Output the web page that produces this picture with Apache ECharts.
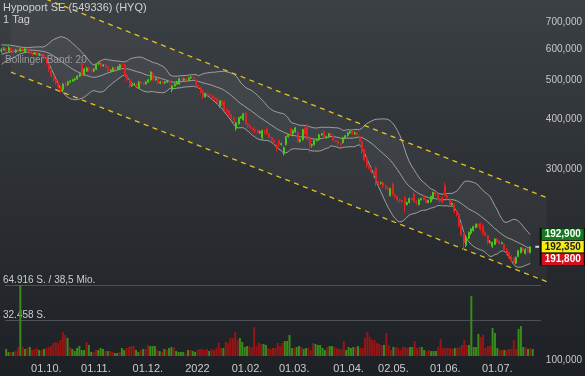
<!DOCTYPE html>
<html><head><meta charset="utf-8">
<script src="https://cdn.jsdelivr.net/npm/echarts@6/dist/echarts.min.js"></script>
<style>html,body{margin:0;padding:0;background:#2c3034;}#c{width:585px;height:376px;}</style>
</head><body><div id="c"></div>
<script>
const chartTitle = 'Hypoport SE (549336) (HYQ)';
const chartPeriod = '1 Tag';
const indicatorLabel = 'Bollinger Band: 20';
const firstDay = '2021-09-08';
const emptyDaysAfter = 7;
const holidays = ['2021-12-24','2021-12-31','2022-04-15','2022-04-18'];
const monthLabelDates = ['2021-10-01','2021-11-01','2021-12-01','2022-01-03','2022-02-01','2022-03-01','2022-04-01','2022-05-02','2022-06-01','2022-07-01'];
const monthLabelTexts = ['01.10.','01.11.','01.12.','2022','01.02.','01.03.','01.04.','02.05.','01.06.','01.07.'];
const priceTicks = [100,300,400,500,600,700]; // thousand EUR
const volumeTicks = [32.458, 64.916]; // thousand shares
const volumeTickLabels = ['32.458 S.', '64.916 S. / 38,5 Mio.'];
const quoteValues = [192.9, 192.35, 191.8];
const quoteTexts = ['192,900', '192,350', '191,800'];
// closes before the first visible day (feed the 20-day band)
const bbHistory = [548,556,562,560,566,571,568,575,580,584,586,590,594,598,600,596,602,598,594];
// [open, close, low, high] in thousand EUR
const candles = [
[593,596,586,603],[596,600,593,606],[600,593,589,603],[593,603,589,610],[603,596,593,606],[596,589,586,600],[589,596,586,600],[596,593,589,600],[593,600,589,603],[600,596,593,603],
[589,600,586,603],[600,589,586,603],[589,586,583,593],[586,583,576,589],[583,586,579,589],[586,579,576,589],[579,583,576,586],[583,579,573,586],[579,569,563,583],[569,553,547,573],
[553,531,525,556],[531,513,508,534],[513,502,496,516],[502,493,488,505],[493,482,477,496],[482,474,466,485],[474,490,471,493],[490,488,482,493],[488,496,485,499],[496,499,493,502],
[499,502,496,505],[502,505,499,508],[505,513,502,516],[513,522,510,525],[553,513,510,556],[516,534,513,537],[528,537,525,541],[537,531,525,541],[531,528,522,534],[528,534,525,537],
[534,550,531,553],[550,553,547,556],[553,544,541,556],[544,547,541,550],[547,541,537,550],[541,528,525,544],[528,531,525,534],[528,537,525,541],[537,534,531,541],[534,541,531,544],
[537,547,534,550],[547,544,541,550],[547,516,513,550],[516,502,499,519],[502,485,479,505],[485,488,482,490],[488,490,485,493],[490,485,482,493],[479,496,477,499],[496,493,488,499],
[493,490,485,496],[490,496,488,499],[496,502,493,505],[502,525,499,528],[522,502,499,525],[502,505,499,508],[505,493,490,508],[493,496,490,499],[496,493,490,499],[493,496,490,499],
[496,499,493,502],[499,493,488,502],[474,485,468,488],[485,490,482,493],[490,496,488,499],[490,505,488,508],[505,502,499,508],[502,505,499,508],[505,502,499,508],[502,508,499,510],
[508,510,505,513],[510,505,502,513],[502,485,482,505],[485,479,477,488],[479,468,463,482],[471,455,450,474],[455,463,453,466],[463,460,455,466],[460,458,453,463],[458,453,447,460],
[453,450,445,455],[450,440,435,453],[432,445,427,447],[445,435,432,447],[442,423,420,445],[423,420,415,425],[420,411,406,423],[411,404,399,413],[404,394,390,406],[379,392,375,394],
[390,404,388,406],[404,406,401,408],[399,413,397,415],[415,390,388,418],[390,386,381,392],[386,381,379,388],[381,377,373,383],[377,375,370,379],[375,370,368,377],[370,373,368,375],
[360,375,356,377],[375,373,368,377],[379,368,366,381],[368,360,358,370],[360,354,352,362],[354,350,346,356],[344,340,332,348],[354,346,342,356],[346,348,344,350],[328,340,325,342],
[346,362,344,364],[362,366,360,368],[379,368,366,381],[368,375,366,377],[373,381,370,383],[370,352,350,373],[352,356,350,358],[356,377,354,379],[381,368,366,383],[386,356,354,390],
[360,344,330,362],[344,346,340,348],[346,354,344,356],[354,356,352,358],[356,366,354,368],[366,368,364,370],[373,360,358,375],[360,362,358,364],[362,368,360,370],[368,366,364,370],
[364,354,352,366],[354,352,350,356],[352,348,344,354],[348,346,342,350],[350,360,348,362],[360,364,358,366],[364,370,362,373],[370,373,368,375],[373,368,366,375],[368,370,366,373],
[370,366,364,373],[362,352,350,364],[352,332,328,354],[336,317,314,338],[321,307,303,323],[307,303,300,308],[303,296,293,305],[296,290,286,298],[303,280,273,305],[280,277,273,281],
[277,278,275,280],[278,273,270,280],[273,270,267,275],[270,269,266,272],[258,269,257,270],[275,260,258,278],[260,257,254,261],[257,252,249,258],[252,251,248,254],[251,249,248,252],
[255,245,234,257],[245,248,244,249],[248,254,247,255],[254,252,251,255],[261,249,248,263],[249,248,245,251],[245,252,244,254],[252,254,251,255],[258,252,251,260],[252,248,247,254],
[248,251,247,252],[249,257,248,258],[254,263,252,264],[263,260,258,264],[261,252,251,263],[252,251,248,254],[255,248,247,257],[273,258,257,278],[258,255,252,260],[252,245,244,254],
[245,247,244,248],[245,236,233,247],[236,232,229,237],[232,217,215,233],[219,206,204,220],[208,197,189,209],[194,203,192,204],[202,209,201,210],[208,213,206,214],[211,216,210,217],
[215,219,214,220],[219,216,215,220],[220,213,211,221],[217,209,206,219],[209,205,204,210],[205,197,195,206],[197,198,196,200],[193,197,191,198],[195,201,194,202],[201,198,197,202],
[198,196,195,200],[196,197,195,198],[195,189,188,196],[189,185,184,191],[186,181,180,187],[182,177,176,183],[180,175,174,181],[175,181,174,182],[182,188,181,189],[186,191,185,192],
[191,188,187,192],[185,189,184,191],[189,187,186,191],[186,192.35,185,192.9]
];
// volume in thousand shares
const volumes = [
6.4,3.7,3.7,3.7,4.6,8.2,64.9,8.2,6.4,7.3, 8.2,5.5,6.4,7.3,5.5,5.5,6.4,7.3,8.2,9.1,
11.9,12.8,11.9,14.6,21.9,19.2,16.5,8.2,6.4,4.6, 7.3,9.1,5.5,5.5,12.8,10.1,3.7,3.7,5.5,5.5,
7.3,6.4,4.6,4.6,4.6,3.7,2.7,2.7,3.7,7.3, 5.5,7.3,8.2,9.1,9.1,5.5,3.7,5.5,6.4,6.4,
10.1,9.1,9.1,9.1,5.5,4.6,3.7,6.4,5.5,7.3, 8.2,8.2,4.6,3.7,3.7,3.7,1.8,5.5,5.5,4.6,
3.7,5.5,6.4,6.4,5.5,6.4,4.6,6.4,5.5,7.3, 11.9,7.3,7.3,12.8,11.9,16.5,16.5,21.9,14.6,16.5,
12.8,8.2,9.1,9.1,8.2,26.5,9.1,11.9,11.0,11.0, 10.1,7.3,6.4,7.3,7.3,11.9,9.1,11.9,13.7,13.7,
19.2,7.3,7.3,8.2,9.1,8.2,6.4,7.3,7.3,5.5, 11.9,11.0,10.1,10.1,7.3,5.5,8.2,9.1,9.1,8.2,
7.3,6.4,6.4,13.7,5.5,8.2,7.3,8.2,8.2,9.1, 7.3,7.3,16.5,21.9,17.4,14.6,14.6,11.9,11.0,10.1,
10.1,21.0,10.1,5.5,8.2,8.2,7.3,5.5,8.2,8.2, 7.3,8.2,8.2,13.7,7.3,8.2,8.2,5.5,4.6,5.5,
4.6,4.6,4.6,8.2,15.5,7.3,7.3,7.3,7.3,6.4, 7.3,7.3,8.2,10.1,14.6,10.1,10.1,54.8,8.2,8.2,
20.1,17.4,19.2,7.3,9.1,9.1,25.6,21.0,7.3,5.5, 5.5,5.5,5.5,6.4,6.4,14.6,6.4,24.7,27.4,8.2,
8.2,6.4,7.3,6.4
];
// trend channel end points: [day index, price]
const channelUpper = [[4, 865], [230, 254.9]];
const channelLower = [[4, 524.6], [230, 157.4]];

// ---- calendar of trading days ----
function tradingDays(start, count) {
  const out = []; let t = Date.parse(start + 'T00:00:00Z');
  while (out.length < count) {
    const d = new Date(t), w = d.getUTCDay(), s = d.toISOString().slice(0, 10);
    if (w !== 0 && w !== 6 && !holidays.includes(s)) out.push(s);
    t += 86400000;
  }
  return out;
}
const nDays = candles.length;
const days = tradingDays(firstDay, nDays + emptyDaysAfter);
const volDays = days.slice(0, nDays + 3);
const labelMap = {};
monthLabelDates.forEach((d, i) => labelMap[d] = monthLabelTexts[i]);

// ---- Bollinger band (20, 2) ----
const closes = candles.map(c => c[1]);
const allCloses = bbHistory.concat(closes);
const bbMid = [], bbLow = [], bbSpan = [];
for (let i = 0; i < nDays; i++) {
  const w = allCloses.slice(i + bbHistory.length - 19, i + bbHistory.length + 1);
  const m = w.reduce((a, b) => a + b, 0) / w.length;
  const sd = Math.sqrt(w.reduce((a, b) => a + (b - m) * (b - m), 0) / w.length);
  bbMid.push(m); bbLow.push(m - 2 * sd); bbSpan.push(4 * sd);
}

const UP = '#4cc41e', DOWN = '#e02222';
const VUP = '#3a8a1c', VDOWN = '#961616';
const font = 'Liberation Sans, Arial, sans-serif';
const chart = echarts.init(document.getElementById('c'));
const bandLine = {color: 'rgba(175,175,175,0.85)', width: 1};

chart.setOption({
  animation: false,
  backgroundColor: {type: 'linear', x: 0, y: 0, x2: 0, y2: 1,
    colorStops: [{offset: 0, color: '#3b4045'}, {offset: 1, color: '#1d2024'}]},
  title: [
    {text: chartTitle, subtext: chartPeriod, left: 3, top: 2, padding: 0, itemGap: 0,
     textStyle: {fontSize: 11, fontWeight: 'normal', color: '#d0d0d0', fontFamily: font, lineHeight: 12},
     subtextStyle: {fontSize: 11, color: '#d0d0d0', fontFamily: font, lineHeight: 11}},
    {text: indicatorLabel, left: 5, top: 55, padding: 0,
     textStyle: {fontSize: 10, fontWeight: 'normal', color: 'rgba(175,175,175,0.8)', fontFamily: font}}
  ],
  grid: [
    {left: 0.31, top: 0, width: 550.2, height: 376},
    {left: 0.31, top: 285, width: 540.67, height: 71}
  ],
  xAxis: [
    {type: 'category', gridIndex: 0, data: days, show: false},
    {type: 'category', gridIndex: 1, data: volDays,
     axisLine: {show: false}, axisTick: {show: false},
     axisLabel: {interval: (i, v) => v in labelMap, formatter: v => labelMap[v] || '',
       color: '#cccccc', fontSize: 11, fontFamily: font, margin: 7}}
  ],
  yAxis: [
    {type: 'log', gridIndex: 0, min: 91.52, max: 794.3, position: 'right',
     axisLine: {show: false}, axisTick: {show: false}, splitLine: {show: false},
     axisLabel: {customValues: priceTicks, formatter: v => Math.round(v * 1000).toLocaleString('en-US'),
       align: 'right', margin: 34, color: '#c8c8c8', fontSize: 10, fontFamily: font}},
    {type: 'value', gridIndex: 1, min: 0, max: 64.916, interval: 32.458, position: 'left',
     axisLine: {show: false}, axisTick: {show: false},
     splitLine: {show: true, lineStyle: {color: ['rgba(0,0,0,0)', '#4c5055', '#4c5055'], width: 1.2}},
     axisLabel: {inside: true, margin: -2, verticalAlign: 'bottom', color: '#cccccc', fontSize: 10, fontFamily: font,
       formatter: v => { const k = volumeTicks.findIndex(t => Math.abs(t - v) < 0.01); return k < 0 ? '' : volumeTickLabels[k]; }}}
  ],
  series: [
    {type: 'custom', xAxisIndex: 0, yAxisIndex: 0, silent: true, clip: true, z: 1,
     data: [[0, 300]],
     renderItem: (p, api) => {
       const a = api.coord(channelUpper[0]), b = api.coord(channelUpper[1]);
       const c = api.coord(channelLower[1]), d = api.coord(channelLower[0]);
       return {type: 'polygon', shape: {points: [a, b, c, d]}, style: {fill: 'rgba(255,255,255,0.035)'}};
     }},
    {type: 'line', xAxisIndex: 0, yAxisIndex: 0, data: bbLow, stack: 'bb', symbol: 'none', lineStyle: bandLine, z: 2, silent: true},
    {type: 'line', xAxisIndex: 0, yAxisIndex: 0, data: bbSpan, stack: 'bb', symbol: 'none', lineStyle: bandLine, z: 2, silent: true,
     areaStyle: {color: 'rgba(255,255,255,0.055)'}},
    {type: 'line', xAxisIndex: 0, yAxisIndex: 0, data: bbMid, symbol: 'none', lineStyle: bandLine, z: 2, silent: true},
    {type: 'line', xAxisIndex: 0, yAxisIndex: 0, data: channelUpper, symbol: 'none', z: 3, silent: true,
     lineStyle: {color: '#e3c21c', width: 1.3, type: [5, 4.5]}},
    {type: 'line', xAxisIndex: 0, yAxisIndex: 0, data: channelLower, symbol: 'none', z: 3, silent: true,
     lineStyle: {color: '#e3c21c', width: 1.3, type: [5, 4.5]}},
    {type: 'candlestick', xAxisIndex: 0, yAxisIndex: 0, data: candles, barWidth: 1.5, z: 4,
     itemStyle: {color: UP, color0: DOWN, borderColor: UP, borderColor0: DOWN, borderWidth: 1},
     markPoint: {silent: true, animation: false,
       data: [
         {coord: [nDays + 2, quoteValues[1]], symbol: 'rect', symbolSize: [4, 2], itemStyle: {color: '#d8d8d8'}, label: {show: false}},
         {coord: [nDays + 3, quoteValues[0]], symbol: 'rect', symbolSize: [44, 12], symbolOffset: [23, -12],
          itemStyle: {color: '#157a20', borderColor: '#0b0b0b', borderWidth: 1},
          label: {show: true, position: 'inside', formatter: quoteTexts[0], color: '#ffffff', fontWeight: 'bold', fontSize: 10, fontFamily: font}},
         {coord: [nDays + 3, quoteValues[1]], symbol: 'rect', symbolSize: [44, 12], symbolOffset: [23, 0],
          itemStyle: {color: '#f2ee10', borderColor: '#0b0b0b', borderWidth: 1},
          label: {show: true, position: 'inside', formatter: quoteTexts[1], color: '#222222', fontWeight: 'bold', fontSize: 10, fontFamily: font}},
         {coord: [nDays + 3, quoteValues[2]], symbol: 'rect', symbolSize: [44, 12], symbolOffset: [23, 12],
          itemStyle: {color: '#d3101e', borderColor: '#0b0b0b', borderWidth: 1},
          label: {show: true, position: 'inside', formatter: quoteTexts[2], color: '#ffffff', fontWeight: 'bold', fontSize: 10, fontFamily: font}}
       ]}},
    {type: 'bar', xAxisIndex: 1, yAxisIndex: 1, barWidth: 2, silent: true,
     data: volumes.map((v, i) => ({value: v, itemStyle: {color: candles[i][1] >= candles[i][0] ? VUP : VDOWN}}))}
  ]
});
</script></body></html>
